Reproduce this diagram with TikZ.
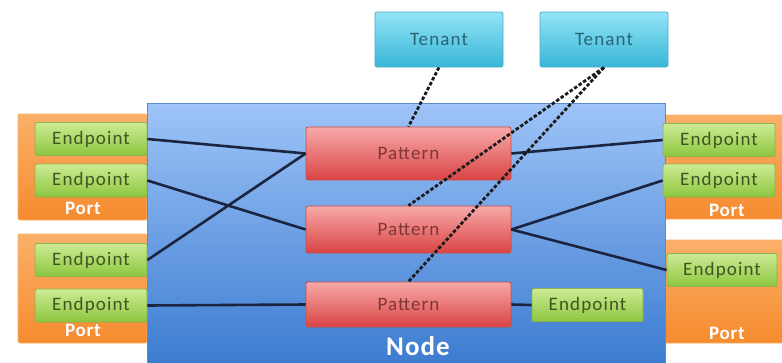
\documentclass[tikz,border=0pt]{standalone}
\usepackage{fontspec}
\setmainfont{Carlito}
\newfontfamily\boxfont[LetterSpace=6]{Carlito}
\newfontfamily\boldfont[LetterSpace=4]{Carlito Bold}
\definecolor{linecol}{HTML}{1C2540}
\definecolor{eptop}{HTML}{CDEB95}
\definecolor{epbot}{HTML}{8CC63E}
\definecolor{epedge}{HTML}{8DB350}
\definecolor{eptext}{HTML}{3F5522}
\definecolor{porttop}{HTML}{FBB06A}
\definecolor{portbot}{HTML}{F58B2E}
\definecolor{patop}{HTML}{F7A9A9}
\definecolor{pabot}{HTML}{DA4444}
\definecolor{paedge}{HTML}{C0504D}
\definecolor{patext}{HTML}{7E3636}
\definecolor{tetop}{HTML}{93E4F6}
\definecolor{tebot}{HTML}{39B6D8}
\definecolor{teedge}{HTML}{4BACC6}
\definecolor{tetext}{HTML}{2A6576}
\definecolor{nodetop}{HTML}{9EC4F8}
\definecolor{nodebot}{HTML}{3A7ACF}
\definecolor{nodeedge}{HTML}{5B8BC8}
\definecolor{dashcol}{HTML}{1A1A1A}
\tikzset{
  box/.style={rectangle, rounded corners=2pt, inner sep=0pt, line width=0.8pt},
  epbox/.style={box, draw=epedge, top color=eptop, bottom color=epbot,
    minimum width=112pt, minimum height=33pt,
    font=\boxfont\fontsize{19}{19}\selectfont, text=eptext},
  portbox/.style={box, draw=porttop, top color=porttop, bottom color=portbot},
  portlabel/.style={font=\boldfont\fontsize{19}{19}\selectfont, text=white},
  patbox/.style={box, draw=paedge, top color=patop, bottom color=pabot,
    minimum width=205pt, font=\boxfont\fontsize{19}{19}\selectfont, text=patext},
  tenbox/.style={box, draw=teedge, top color=tetop, bottom color=tebot,
    minimum width=128pt, minimum height=55pt,
    font=\boxfont\fontsize{19}{19}\selectfont, text=tetext},
  wire/.style={draw=linecol, line width=2.6pt},
  tenwire/.style={draw=dashcol, line width=2.8pt, dash pattern=on 3.5pt off 2pt}
}
\begin{document}
\begin{tikzpicture}[x=1pt, y=-1pt]
\useasboundingbox (0,0) rectangle (782,362);
\clip (0,0) rectangle (782,362);
\fill[white] (0,0) rectangle (782,362);

% ports on both sides
\node[portbox, minimum width=129pt, minimum height=106pt] (portL1) at (82.5,167) {};
\node[portbox, minimum width=129pt, minimum height=109pt] (portL2) at (82.5,288.5) {};
\node[portbox, minimum width=136pt, minimum height=104pt] (portR1) at (732,167) {};
\node[portbox, minimum width=136pt, minimum height=103pt] (portR2) at (732,291.5) {};
\node[portlabel] (portL1lbl) at (83,208) {Port};
\node[portlabel] (portL2lbl) at (83,330) {Port};
\node[portlabel] (portR1lbl) at (727,210) {Port};
\node[portlabel] (portR2lbl) at (727,333) {Port};

% the node itself
\node[rectangle, draw=nodeedge, line width=0.8pt, top color=nodetop, bottom color=nodebot,
      minimum width=518pt, minimum height=267pt, inner sep=0pt] (node) at (406,236.5) {};
\node[font=\boldfont\fontsize{27}{27}\selectfont, text=white] (nodelbl) at (418,346) {Node};

% endpoints
\node[epbox] (epL1) at (91,139) {Endpoint};
\node[epbox] (epL2) at (91,180.5) {Endpoint};
\node[epbox] (epL3) at (91,260) {Endpoint};
\node[epbox] (epL4) at (91,305.5) {Endpoint};
\node[epbox] (epR1) at (719,140) {Endpoint};
\node[epbox] (epR2) at (719,180.5) {Endpoint};
\node[epbox, minimum width=110pt] (epR3) at (722,270) {Endpoint};
\node[epbox, minimum width=111pt] (epIn) at (587.5,305) {Endpoint};

% patterns
\node[patbox, minimum height=53pt] (pat1) at (408.5,153.5) {Pattern};
\node[patbox, minimum height=47pt] (pat2) at (408.5,229.5) {Pattern};
\node[patbox, minimum height=45pt] (pat3) at (408.5,304.5) {Pattern};

% tenants
\node[tenbox] (ten1) at (439,39.5) {Tenant};
\node[tenbox] (ten2) at (604,39.5) {Tenant};

% endpoint to pattern wiring
\draw[wire] (epL1.east) -- (pat1.west);
\draw[wire] (epL2.east) -- (pat2.west);
\draw[wire] (epL3.east) -- (pat1.west);
\draw[wire] (epL4.east) -- (pat3.west);
\draw[wire] (pat1.east) -- (epR1.west);
\draw[wire] (pat2.east) -- (epR2.west);
\draw[wire] (pat2.east) -- (epR3.west);
\draw[wire] (pat3.east) -- (epIn.west);

% tenant ownership
\draw[tenwire] (ten1.south) -- (pat1.north);
\draw[tenwire] (ten2.south) -- (pat2.north);
\draw[tenwire] (ten2.south) -- (pat3.north);
\end{tikzpicture}
\end{document}
